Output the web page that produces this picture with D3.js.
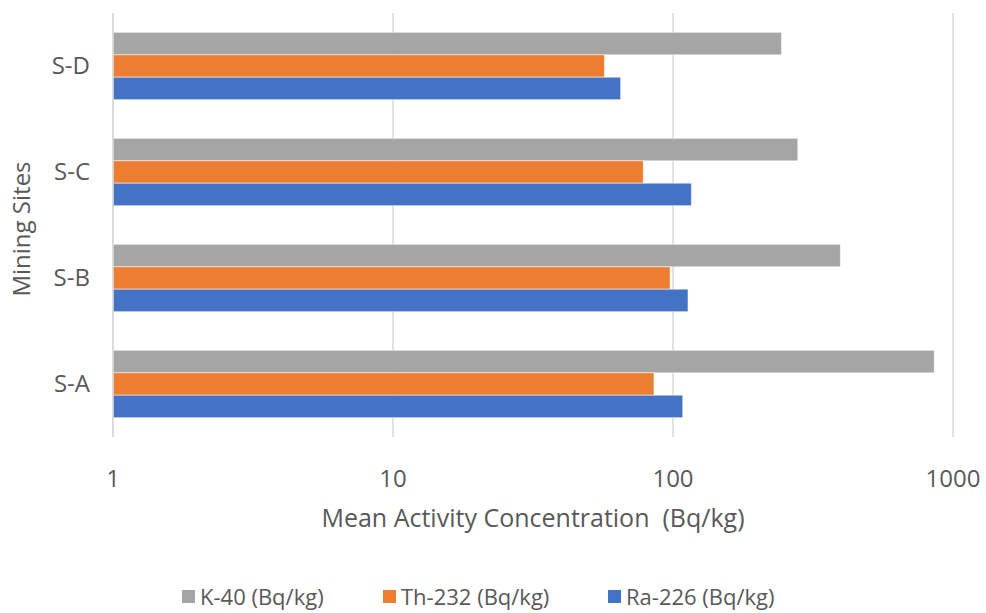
<!DOCTYPE html>
<html>
<head>
<meta charset="utf-8">
<script src="https://cdn.jsdelivr.net/npm/d3@7"></script>
<style>
  body { margin: 0; background: #fff; }
  text { font-family: "Open Sans", sans-serif; fill: #595959; }
</style>
</head>
<body>
<svg id="chart" width="986" height="613"></svg>
<script>
// Mining sites, bottom to top in the picture
var sites = ['S-A', 'S-B', 'S-C', 'S-D']
var series = ['K-40 (Bq/kg)', 'Th-232 (Bq/kg)', 'Ra-226 (Bq/kg)']
var colors = ['#A5A5A5', '#ED7D31', '#4472C4']

var k40 = [857, 396, 279, 244]
var th232 = [85.5, 97.6, 78.3, 56.9]
var ra226 = [108.3, 113.1, 116.3, 65.0]

var xTicks = [1, 10, 100, 1000]

var svg = d3.select('#chart')
var margin = { left: 113, right: 33, top: 13, bottom: 176 }
var width = 986, height = 613
var plotW = width - margin.left - margin.right
var plotH = height - margin.top - margin.bottom

var x = d3.scaleLog().domain([1, 1000]).range([margin.left, margin.left + plotW])
var y = d3.scaleBand().domain(sites.slice().reverse())
  .range([margin.top, margin.top + plotH])
  .paddingInner(0.365).paddingOuter(0.1825)
var ySub = d3.scaleBand().domain(series).range([0, y.bandwidth()])

var values = [k40, th232, ra226]

// gridlines
svg.append('g')
  .selectAll('line')
  .data(xTicks)
  .join('line')
  .attr('x1', d => x(d)).attr('x2', d => x(d))
  .attr('y1', margin.top).attr('y2', margin.top + plotH)
  .attr('stroke', '#d9d9d9')
  .attr('stroke-width', 1.5)

// bars
series.forEach(function (s, si) {
  svg.append('g')
    .selectAll('rect')
    .data(sites)
    .join('rect')
    .attr('x', x(1))
    .attr('y', (d, i) => y(d) + ySub(s))
    .attr('width', (d, i) => x(values[si][i]) - x(1))
    .attr('height', ySub.bandwidth())
    .attr('fill', colors[si])
    .attr('stroke', '#ffffff')
    .attr('stroke-opacity', 0.5)
    .attr('stroke-width', 1)
})

// y axis line
svg.append('line')
  .attr('x1', x(1)).attr('x2', x(1))
  .attr('y1', margin.top).attr('y2', margin.top + plotH)
  .attr('stroke', '#d9d9d9')
  .attr('stroke-width', 1.5)

// y labels
svg.append('g')
  .selectAll('text')
  .data(sites)
  .join('text')
  .attr('x', 90)
  .attr('y', d => y(d) + y.bandwidth() / 2)
  .attr('dy', '0.35em')
  .attr('text-anchor', 'end')
  .style('font-size', '24px')
  .text(d => d)

// x labels
svg.append('g')
  .selectAll('text')
  .data(xTicks)
  .join('text')
  .attr('x', d => x(d))
  .attr('y', 487)
  .attr('text-anchor', 'middle')
  .style('font-size', '24px')
  .text(d => d)

svg.append('text')
  .attr('x', 533)
  .attr('y', 527)
  .attr('text-anchor', 'middle')
  .style('font-size', '25px')
  .style('white-space', 'pre')
  .text('Mean Activity Concentration  (Bq/kg)')

svg.append('text')
  .attr('transform', 'translate(30,' + 229 + ') rotate(-90)')
  .attr('text-anchor', 'middle')
  .style('font-size', '24px')
  .text('Mining Sites')

// legend
var legendX = [182, 383, 608]
var legend = svg.append('g')
  .selectAll('g')
  .data(series)
  .join('g')
  .attr('transform', (d, i) => 'translate(' + legendX[i] + ',590)')
legend.append('rect')
  .attr('width', 13).attr('height', 13)
  .attr('fill', (d, i) => colors[i])
legend.append('text')
  .attr('x', 18).attr('y', 7)
  .attr('dy', '0.35em')
  .style('font-size', '22px')
  .text(d => d)
</script>
</body>
</html>
